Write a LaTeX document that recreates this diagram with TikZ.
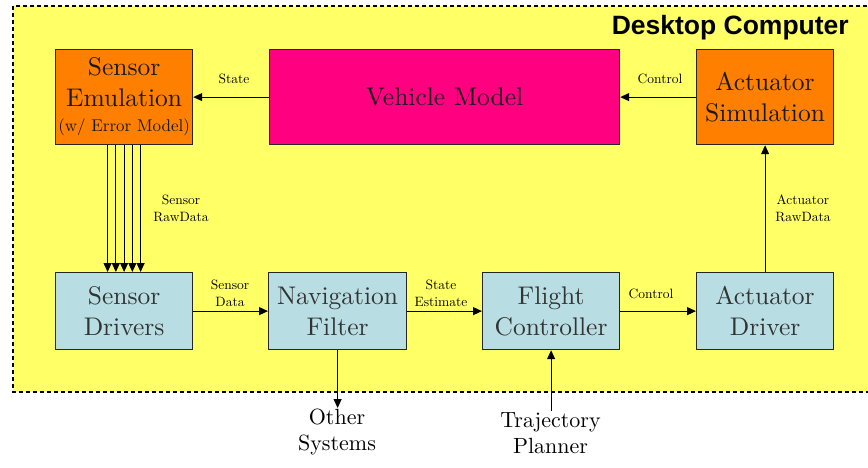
\documentclass[tikz,border=0pt]{standalone}
\usepackage{fontspec}
% one design size of Latin Modern at every size (wider, sturdier letters)
\setmainfont{lmroman10-regular}[Extension=.otf, BoldFont=lmroman10-bold]
\newfontfamily\headfont{Liberation Sans}
\usetikzlibrary{arrows.meta}

\definecolor{bgyellow}{RGB}{255,255,102}
\definecolor{simorange}{RGB}{255,128,0}
\definecolor{modelpink}{RGB}{255,0,128}
\definecolor{swblue}{RGB}{184,222,227}

\begin{document}
\begin{tikzpicture}[x=1pt,y=-1pt,
  block/.style={draw=black!85, line width=1.2pt, anchor=north west,
    align=center, inner sep=0pt, font=\fontsize{25.5}{31}\selectfont},
  simbox/.style={block, fill=simorange, text=black!90},
  swbox/.style={block, fill=swblue, text=black!80},
  arr/.style={line width=1.1pt, -{Triangle[length=9pt,width=8pt]}},
  tag/.style={align=center, inner sep=0pt, font=\fontsize{13.5}{17}\selectfont},
  ext/.style={align=center, inner sep=1pt, font=\fontsize{22}{26}\selectfont}]

\useasboundingbox (0,0) rectangle (868,467);
\clip (0,0) rectangle (868,467);

% host machine region
\fill[white] (0,0) rectangle (868,467);
\draw[fill=bgyellow, line width=1.2pt, dash pattern=on 4pt off 3pt]
  (13,6) rectangle (880,392);
\node[anchor=east, inner sep=0pt, font=\headfont\bfseries\fontsize{26.5}{30}\selectfont]
  (host) at (849,28) {Desktop Computer};

% simulation blocks
\node[simbox, minimum width=137pt, minimum height=95pt] (semu) at (55,49)
  {Sensor\\Emulation\\[-6pt]{\fontsize{17}{18}\selectfont (w/ Error Model)}};
\node[block, fill=modelpink, text=black!90, minimum width=350pt, minimum height=95pt,
  font=\fontsize{25.5}{30}\selectfont] (veh) at (269,49) {Vehicle Model};
\node[simbox, minimum width=137pt, minimum height=95pt] (asim) at (696,49)
  {Actuator\\Simulation};

% flight software blocks
\node[swbox, minimum width=137pt, minimum height=77pt] (sdrv) at (55,272)
  {Sensor\\Drivers};
\node[swbox, minimum width=138pt, minimum height=77pt] (nav) at (268,272)
  {Navigation\\Filter};
\node[swbox, minimum width=137pt, minimum height=77pt] (fc) at (482,272)
  {Flight\\Controller};
\node[swbox, minimum width=137pt, minimum height=77pt] (adrv) at (696,272)
  {Actuator\\Driver};

% external nodes
\node[ext, anchor=north] (other) at (337,408) {Other\\Systems};
\node[ext, anchor=north] (traj) at (550.5,411) {Trajectory\\Planner};

% connectors
\draw[arr] (veh.west) -- (semu.east);
\draw[arr] (asim.west) -- (veh.east);
\foreach \dx in {-16.5,-8.25,0,8.25,16.5}
  \draw[arr] ([xshift=\dx pt]semu.south) -- ([xshift=\dx pt]sdrv.north);
\draw[arr] (sdrv.east) -- (nav.west);
\draw[arr] (nav.east) -- (fc.west);
\draw[arr] (fc.east) -- (adrv.west);
\draw[arr] (adrv.north) -- (adrv.north |- asim.south);
\draw[arr] (nav.south) -- (nav.south |- other.north);
\draw[arr] (fc.south |- traj.north) -- (fc.south);

% connector labels
\node[tag] (lstate) at (234,79) {State};
\node[tag] (lctl1) at (660,79) {Control};
\node[tag] (lraw1) at (181,208) {Sensor\\RawData};
\node[tag] (lsdata) at (230,293) {Sensor\\Data};
\node[tag] (lest) at (441,293) {State\\Estimate};
\node[tag] (lctl2) at (651,294) {Control};
\node[tag] (lraw2) at (803,208) {Actuator\\RawData};
\end{tikzpicture}
\end{document}
